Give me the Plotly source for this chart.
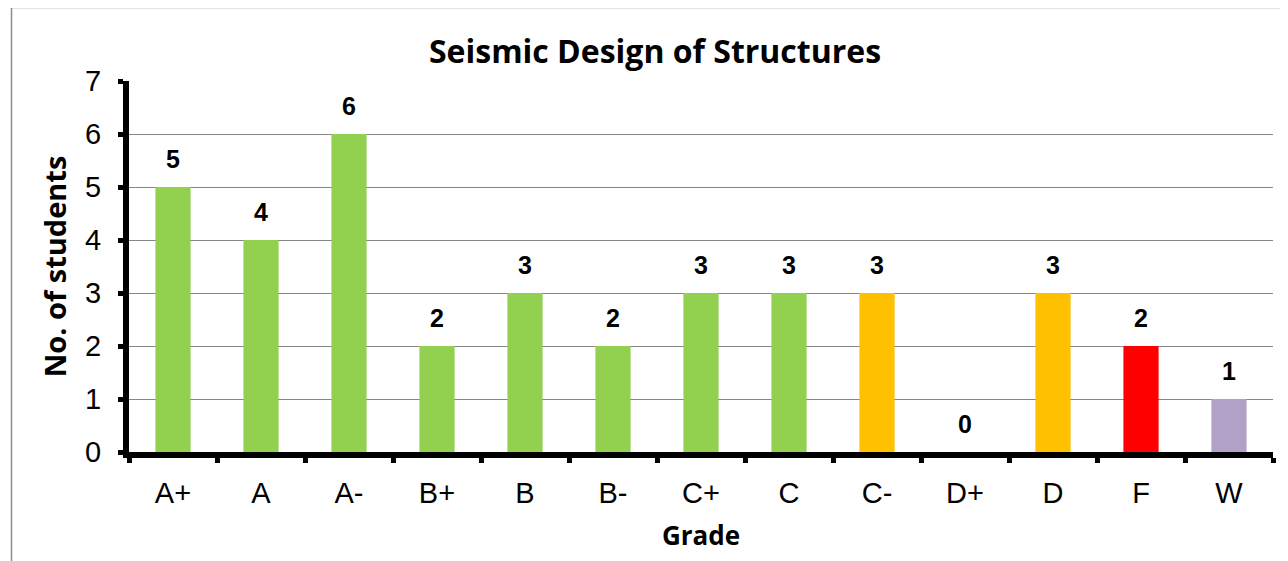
import plotly.graph_objects as go

grades = ["A+", "A", "A-", "B+", "B", "B-", "C+", "C", "C-", "D+", "D", "F", "W"]
students = [5, 4, 6, 2, 3, 2, 3, 3, 3, 0, 3, 2, 1]
bar_colors = ["#92D050", "#92D050", "#92D050", "#92D050", "#92D050", "#92D050",
              "#92D050", "#92D050", "#FFC000", "#FFC000", "#FFC000", "#FF0000", "#B2A1C7"]
y_ticks = [0, 1, 2, 3, 4, 5, 6, 7]

title_text = "Seismic Design of Structures"
x_title = "Grade"
y_title = "No. of students"

# page body has an 8px margin; compensate so the figure lines up with the window
OFF = 8
W, H = 1288 - OFF, 561 - OFF
L, T = 129 - OFF, 81 - OFF
R = W - (1273 - OFF)
B = H - (452 - OFF)

fig = go.Figure()
fig.add_trace(go.Bar(
    x=grades, y=students,
    marker=dict(color=bar_colors, line=dict(width=0)),
    hoverinfo="x+y",
))

for g, v in zip(grades, students):
    fig.add_annotation(
        x=g, y=v, text=f"<b>{v}</b>", showarrow=False,
        yanchor="bottom", yshift=12,
        font=dict(family="Liberation Sans, Arial", size=25, color="#000000"),
    )

plot_w = W - L - R
plot_h = H - T - B
fig.add_shape(
    type="rect", xref="paper", yref="paper",
    x0=(11.5 - OFF - L) / plot_w, x1=(W + 30 - L) / plot_w,
    y0=(plot_h + T - (H + 30)) / plot_h, y1=(plot_h + T - (7.5 - OFF)) / plot_h,
    line=dict(color="#8C8C8C", width=1.5), fillcolor="rgba(0,0,0,0)", layer="below",
)

fig.update_layout(
    width=W, height=H,
    margin=dict(l=L, r=R, t=T, b=B, pad=0),
    paper_bgcolor="#FFFFFF", plot_bgcolor="#FFFFFF",
    bargap=0.6,
    showlegend=False,
    title=dict(
        text=f"<b>{title_text}</b>", x=(655 - OFF) / W, xanchor="center",
        y=1 - (52 - OFF) / H, yanchor="middle", xref="container", yref="container",
        font=dict(family="Open Sans", size=32, color="#000000"),
    ),
    xaxis=dict(
        type="category", tickson="boundaries",
        showline=True, linecolor="#000000", linewidth=6,
        ticks="outside", ticklen=5, tickwidth=5, tickcolor="#000000",
        showgrid=False, zeroline=False,
        tickfont=dict(family="Liberation Sans, Arial", size=29, color="#000000"),
        ticklabelstandoff=10,
        title=dict(text=f"<b>{x_title}</b>", standoff=21,
                   font=dict(family="Open Sans", size=26, color="#000000")),
    ),
    yaxis=dict(
        range=[0, 7], tickvals=y_ticks,
        showline=True, linecolor="#000000", linewidth=6,
        ticks="outside", ticklen=5, tickwidth=5, tickcolor="#000000",
        showgrid=True, gridcolor="#868686", gridwidth=1.2,
        zeroline=False,
        tickfont=dict(family="Liberation Sans, Arial", size=29, color="#000000"),
        ticklabelstandoff=11,
        title=dict(text=f"<b>{y_title}</b>", standoff=12,
                   font=dict(family="Open Sans", size=29, color="#000000")),
    ),
)

fig.write_html("out.html")
